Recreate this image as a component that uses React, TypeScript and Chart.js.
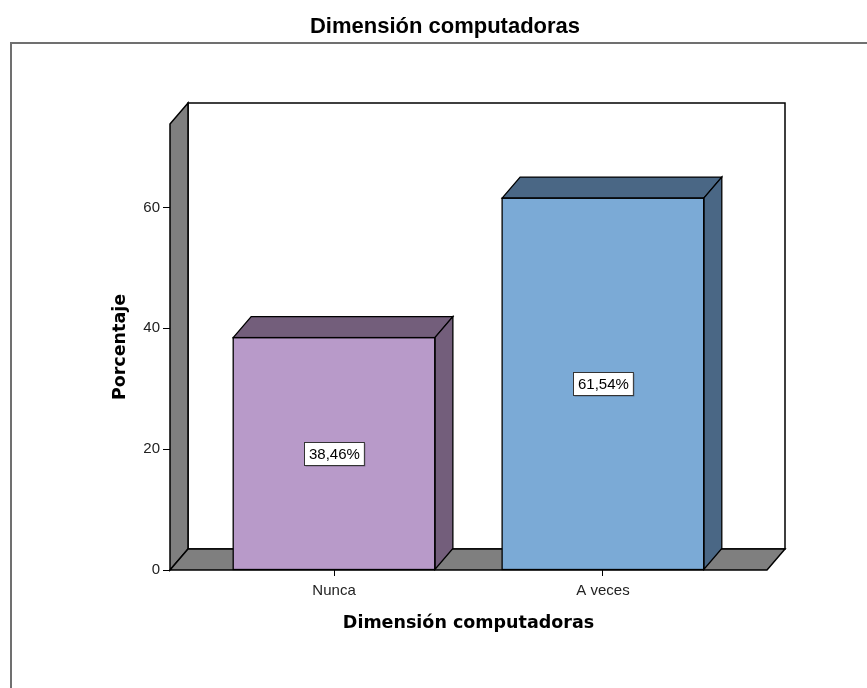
import { useEffect, useRef } from 'react';
import { Chart, registerables } from 'chart.js';

Chart.register(...registerables);

const categories = ['Nunca', 'A veces'];
const percentages = [38.46, 61.54];
const frontColors = ['#B89AC9', '#7BAAD6'];
const shadeColors = ['#735E7B', '#4A6785'];
const yTickValues = [0, 20, 40, 60];
const yMax = 73.8;
const chartTitle = 'Dimensión computadoras';
const xAxisTitle = 'Dimensión computadoras';
const yAxisTitle = 'Porcentaje';

const DEPTH_X = 18;
const DEPTH_Y = 21;
const WALL = '#7F7F7F';
const SANS = '"Liberation Sans", Arial, sans-serif';
const BOLD = '"DejaVu Sans", Verdana, sans-serif';

const framePlugin = {
  id: 'frame',
  beforeDraw(chart: any) {
    const ctx = chart.ctx;
    ctx.save();
    ctx.fillStyle = '#fff';
    ctx.fillRect(0, 0, chart.width, chart.height);
    ctx.strokeStyle = '#707070';
    ctx.lineWidth = 2;
    ctx.strokeRect(11, 43, chart.width - 20, chart.height);
    ctx.fillStyle = '#000';
    ctx.font = `bold 22px ${SANS}`;
    ctx.textAlign = 'center';
    ctx.textBaseline = 'middle';
    ctx.fillText(chartTitle, chart.width / 2, 27);
    ctx.restore();
  },
};

const poly = (ctx: CanvasRenderingContext2D, pts: number[][], fill: string) => {
  ctx.beginPath();
  ctx.moveTo(pts[0][0], pts[0][1]);
  for (let i = 1; i < pts.length; i++) ctx.lineTo(pts[i][0], pts[i][1]);
  ctx.closePath();
  ctx.fillStyle = fill;
  ctx.fill();
  ctx.stroke();
};

const wallsPlugin = {
  id: 'walls',
  beforeDatasetsDraw(chart: any) {
    const { left, right, top, bottom } = chart.chartArea;
    const ctx = chart.ctx;
    ctx.save();
    ctx.strokeStyle = '#000';
    ctx.lineWidth = 1.5;
    ctx.lineJoin = 'miter';
    poly(ctx, [
      [left + DEPTH_X, top - DEPTH_Y],
      [right + DEPTH_X, top - DEPTH_Y],
      [right + DEPTH_X, bottom - DEPTH_Y],
      [left + DEPTH_X, bottom - DEPTH_Y],
    ], '#fff');
    poly(ctx, [
      [left, top],
      [left + DEPTH_X, top - DEPTH_Y],
      [left + DEPTH_X, bottom - DEPTH_Y],
      [left, bottom],
    ], WALL);
    poly(ctx, [
      [left, bottom],
      [left + DEPTH_X, bottom - DEPTH_Y],
      [right + DEPTH_X, bottom - DEPTH_Y],
      [right, bottom],
    ], WALL);
    ctx.restore();
  },
};

const bar3dPlugin = {
  id: 'bar3d',
  afterDatasetsDraw(chart: any) {
    const ctx = chart.ctx;
    const meta = chart.getDatasetMeta(0);
    ctx.save();
    ctx.strokeStyle = '#000';
    ctx.lineWidth = 1.3;
    meta.data.forEach((bar: any, i: number) => {
      const { x, y, base, width } = bar.getProps(['x', 'y', 'base', 'width'], true);
      const l = x - width / 2;
      const r = x + width / 2;
      poly(ctx, [
        [l, y],
        [l + DEPTH_X, y - DEPTH_Y],
        [r + DEPTH_X, y - DEPTH_Y],
        [r, y],
      ], shadeColors[i]);
      poly(ctx, [
        [r, y],
        [r + DEPTH_X, y - DEPTH_Y],
        [r + DEPTH_X, base - DEPTH_Y],
        [r, base],
      ], shadeColors[i]);
      ctx.strokeRect(l, y, width, base - y);
    });
    ctx.font = `15px ${SANS}`;
    ctx.textAlign = 'center';
    ctx.textBaseline = 'middle';
    meta.data.forEach((bar: any, i: number) => {
      const { x, y, base } = bar.getProps(['x', 'y', 'base'], true);
      const cy = (y + base) / 2;
      const text = percentages[i].toFixed(2).replace('.', ',') + '%';
      const w = ctx.measureText(text).width + 9;
      const h = 23;
      const bx = Math.round(x - w / 2) + 0.5;
      const by = Math.round(cy - h / 2) + 0.5;
      ctx.fillStyle = 'rgba(0,0,0,0.3)';
      ctx.fillRect(bx + 1, by + 1, w, h);
      ctx.fillStyle = '#fff';
      ctx.fillRect(bx, by, w, h);
      ctx.strokeStyle = '#333';
      ctx.lineWidth = 1;
      ctx.strokeRect(bx, by, w, h);
      ctx.fillStyle = '#000';
      ctx.fillText(text, bx + w / 2, by + h / 2 + 1);
    });
    ctx.restore();
  },
};

export default function App() {
  const ref = useRef<HTMLCanvasElement | null>(null);

  useEffect(() => {
    if (!ref.current) return;
    const chart = new Chart(ref.current, {
      type: 'bar',
      data: {
        datasets: [
          {
            data: categories.map((_, i) => ({ x: i, y: percentages[i] })),
            backgroundColor: frontColors,
            borderColor: '#000',
            borderWidth: 0,
            borderSkipped: false,
            barPercentage: 0.75,
            categoryPercentage: 1,
          },
        ],
      },
      options: {
        responsive: false,
        animation: false,
        layout: { padding: { left: 0, right: 123, top: 124, bottom: 0 } },
        plugins: {
          legend: { display: false },
          tooltip: { enabled: false },
          title: { display: false },
        },
        scales: {
          x: {
            type: 'linear',
            offset: false,
            min: -0.61,
            max: 1.61,
            afterBuildTicks: (s: any) => {
              s.ticks = categories.map((_, i) => ({ value: i }));
            },
            afterFit: (s: any) => {
              s.height = 130;
            },
            ticks: {
              autoSkip: false,
              maxRotation: 0,
              color: '#222',
              padding: 6,
              font: { family: SANS, size: 15 },
              callback: (_v: any, idx: number) => categories[idx],
            },
            grid: { display: true, offset: false, drawOnChartArea: false, drawTicks: true, tickLength: 6, color: '#000', lineWidth: 1 },
            border: { display: false },
            title: {
              display: true,
              text: xAxisTitle,
              color: '#000',
              font: { family: BOLD, size: 17.5, weight: 'bold' },
              padding: { top: 0, bottom: 66.5 },
            },
          },
          y: {
            type: 'linear',
            min: 0,
            max: yMax,
            afterBuildTicks: (s: any) => {
              s.ticks = yTickValues.map((v) => ({ value: v }));
            },
            afterFit: (s: any) => {
              s.width = 170;
            },
            ticks: {
              color: '#222',
              padding: 3,
              font: { family: SANS, size: 15 },
            },
            grid: { display: true, drawOnChartArea: false, drawTicks: true, tickLength: 7, color: '#000', lineWidth: 1 },
            border: { display: false },
            title: {
              display: true,
              text: yAxisTitle,
              color: '#000',
              font: { family: BOLD, size: 17.5, weight: 'bold' },
              padding: { top: 109.5, bottom: 0 },
            },
          },
        },
      },
      plugins: [framePlugin, wallsPlugin, bar3dPlugin],
    });
    return () => chart.destroy();
  }, []);

  return (
    <div style={{ position: 'fixed', left: 0, top: 0, width: 867, height: 688, overflow: 'hidden', background: '#fff' }}>
      <canvas ref={ref} width={890} height={700} style={{ display: 'block' }} />
    </div>
  );
}
